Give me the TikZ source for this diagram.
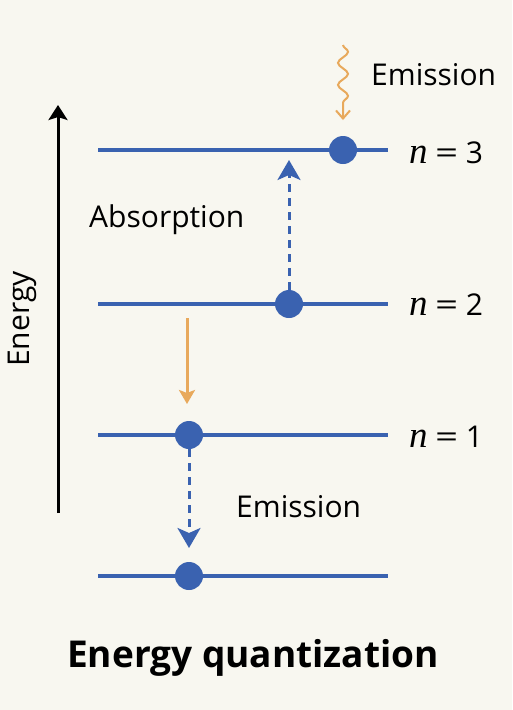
\documentclass[tikz,border=0pt]{standalone}
\usepackage{graphicx}
\usepackage{fontspec}
\setmainfont{Open Sans}
\newfontfamily\serifn{Liberation Serif}
\usetikzlibrary{arrows.meta,decorations.pathmorphing}
\definecolor{bg}{HTML}{F8F7F0}
\definecolor{lvl}{HTML}{3A62B0}
\definecolor{org}{HTML}{E8A95C}
\newcommand{\nlev}[1]{{\serifn\itshape\fontsize{37}{40}\selectfont n}\hspace{0.25em}\scalebox{1.35}[1]{=}\hspace{0.25em}#1}
\tikzset{
  level/.style={draw=lvl, line width=3.5pt},
  dot/.style={circle, fill=lvl, minimum size=28pt, inner sep=0pt},
  dasharrow/.style={draw=lvl, line width=3pt, dash pattern=on 8pt off 6pt,
    -{Stealth[length=20pt,width=23pt,inset=5pt]}},
  orgarrow/.style={draw=org, line width=3pt, -{Stealth[length=14pt,width=16pt,inset=3pt]}},
  wavearrow/.style={draw=org, line width=2pt, decorate,
    decoration={snake, amplitude=5pt, segment length=22pt, post length=16pt},
    -{Straight Barb[length=8pt,width=14pt]}},
  lbl/.style={inner sep=0pt, font=\fontsize{30}{36}\selectfont},
  nlbl/.style={inner sep=0pt, anchor=base west, font=\fontsize{30}{36}\selectfont},
}
\begin{document}
\begin{tikzpicture}[x=1pt,y=-1pt]
\fill[bg] (0,0) rectangle (512,710);
\useasboundingbox (0,0) rectangle (512,710);
% energy axis
\coordinate (ea) at (58,513);
\coordinate (eb) at (58,105);
\draw[line width=3pt, -{Stealth[length=15pt,width=19pt,inset=3pt]}] (ea) -- (eb);
\node[lbl, rotate=90, anchor=base] (elab) at (29,319) {Energy};
% levels
\coordinate (l3a) at (98,150); \coordinate (l3b) at (388,150);
\coordinate (l2a) at (98,304); \coordinate (l2b) at (388,304);
\coordinate (l1a) at (98,435); \coordinate (l1b) at (388,435);
\coordinate (l0a) at (98,576); \coordinate (l0b) at (388,576);
\draw[level] (l3a) -- (l3b);
\draw[level] (l2a) -- (l2b);
\draw[level] (l1a) -- (l1b);
\draw[level] (l0a) -- (l0b);
\node[dot] (d3) at (343,150) {};
\node[dot] (d2) at (289,304) {};
\node[dot] (d1) at (189,435) {};
\node[dot] (d0) at (189,576) {};
% labels
\node[nlbl] (n3) at (409,163) {\nlev{3}};
\node[nlbl] (n2) at (409,315) {\nlev{2}};
\node[nlbl] (n1) at (409,447) {\nlev{1}};
\node[lbl, anchor=base west] (em1) at (371,85) {Emission};
\node[lbl, anchor=base west] (abs) at (89,227) {Absorption};
\node[lbl, anchor=base west] (em2) at (236,517) {Emission};
% arrows
\coordinate (w0) at (343,45);
\coordinate (w1) at (343,120);
\draw[wavearrow] (w0) -- (w1);
\coordinate (t3) at (289,160);
\draw[dasharrow] (d2.north) -- (t3);
\coordinate (o0) at (187,318);
\coordinate (o1) at (187,404);
\draw[orgarrow] (o0) -- (o1);
\coordinate (t0) at (189,548);
\draw[dasharrow] (d1.south) -- (t0);
% title
\node[inner sep=0pt, anchor=base, font=\bfseries\fontsize{37}{42}\selectfont] (title) at (253,667) {Energy quantization};
\end{tikzpicture}
\end{document}
